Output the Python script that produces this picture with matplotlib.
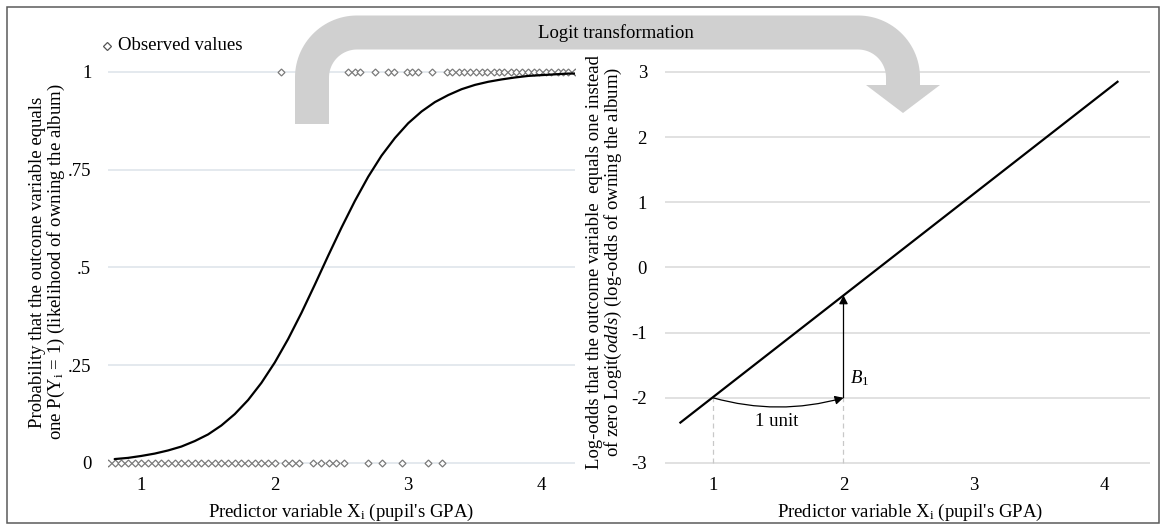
import numpy as np
import matplotlib
matplotlib.use("Agg")
import matplotlib.pyplot as plt
from matplotlib.lines import Line2D
from matplotlib.patches import Polygon, Rectangle, FancyArrowPatch

plt.rcParams['font.family'] = ['Liberation Serif', 'DejaVu Serif']
plt.rcParams['mathtext.fontset'] = 'custom'
plt.rcParams['mathtext.rm'] = 'Liberation Serif'
plt.rcParams['mathtext.it'] = 'Liberation Serif:italic'
plt.rcParams['mathtext.bf'] = 'Liberation Serif:bold'

# ---------------- data ----------------
# observed outcomes (GPA values) with Y = 0
obs0_x = [0.75, 0.80, 0.85, 0.90, 0.95, 1.00, 1.05, 1.10, 1.15, 1.20, 1.25, 1.30, 1.35,
          1.40, 1.45, 1.50, 1.55, 1.60, 1.65, 1.70, 1.75, 1.80, 1.85, 1.90, 1.95, 2.00,
          2.08, 2.13, 2.18, 2.29, 2.35, 2.41, 2.46, 2.52, 2.70, 2.80, 2.95, 3.15, 3.25]
# observed outcomes (GPA values) with Y = 1
obs1_x = [2.05, 2.55, 2.60, 2.64, 2.75, 2.85, 2.89, 2.99, 3.03, 3.07, 3.18,
          3.29, 3.33, 3.38, 3.42, 3.46, 3.51, 3.55, 3.59, 3.64, 3.68, 3.72, 3.77,
          3.81, 3.85, 3.90, 3.94, 3.98, 4.03, 4.07, 4.12, 4.16, 4.20, 4.25]

# fitted probability curve
curve_x = [0.80, 0.90, 1.00, 1.10, 1.20, 1.30, 1.40, 1.50, 1.60, 1.70, 1.80, 1.90,
           2.00, 2.10, 2.20, 2.30, 2.40, 2.50, 2.60, 2.70, 2.80, 2.90, 3.00, 3.10,
           3.20, 3.30, 3.40, 3.50, 3.60, 3.70, 3.80, 3.90, 4.00, 4.10, 4.20, 4.25]
curve_p = [0.010, 0.013, 0.018, 0.024, 0.032, 0.042, 0.056, 0.073, 0.096, 0.125, 0.161, 0.205,
           0.257, 0.317, 0.384, 0.456, 0.530, 0.602, 0.670, 0.732, 0.786, 0.831, 0.869, 0.899,
           0.923, 0.941, 0.956, 0.967, 0.975, 0.981, 0.986, 0.990, 0.992, 0.994, 0.996, 0.996]

# log-odds line (right panel)
line_x = [0.75, 4.10]
line_y = [-2.38, 2.85]

left_yticks = [0, 0.25, 0.5, 0.75, 1]
left_yticklabels = ['0', '.25', '.5', '.75', '1']
right_yticks = [-3, -2, -1, 0, 1, 2, 3]
right_yticklabels = ['-3', '-2', '-1', '0', '1', '2', '3']
xticks = [1, 2, 3, 4]
xticklabels = ['1', '2', '3', '4']

# ---------------- figure ----------------
W, H = 1166, 530
fig = plt.figure(figsize=(W / 100, H / 100), dpi=100)

def fx(px):
    return px / W

def fy(py):
    return 1 - py / H

FS = 13.5
grey_mk = '#7a7a7a'
MS = 3.5

# left panel
axL = fig.add_axes([fx(108), fy(474.7), fx(575) - fx(108), fy(52.45) - fy(474.7)])
axL.set_xlim(0.75, 4.25)
axL.set_ylim(-0.03, 1.05)
for y in left_yticks:
    axL.axhline(y, color='#dde3ea', lw=1.1, zorder=0)
axL.plot(obs0_x, [0] * len(obs0_x), ls='none', marker='D', ms=MS, mfc='white',
         mec=grey_mk, mew=0.9, zorder=3)
axL.plot(obs1_x, [1] * len(obs1_x), ls='none', marker='D', ms=MS, mfc='white',
         mec=grey_mk, mew=0.9, zorder=3)
axL.plot(curve_x, curve_p, color='black', lw=1.6, zorder=4, solid_capstyle='round')
axL.set_yticks(left_yticks)
axL.set_yticklabels(left_yticklabels)
axL.set_xticks(xticks)
axL.set_xticklabels(xticklabels)
axL.tick_params(length=0, labelsize=FS, colors='black')
axL.tick_params(axis='y', pad=12)
axL.tick_params(axis='x', pad=2)
for s in axL.spines.values():
    s.set_visible(False)

# right panel
axR = fig.add_axes([fx(665), fy(474.7), fx(1150) - fx(665), fy(52.45) - fy(474.7)])
axR.set_xlim(0.632, 4.349)
axR.set_ylim(-3.18, 3.30)
for y in right_yticks:
    axR.axhline(y, color='#d9d9d9', lw=1.1, zorder=0)
axR.plot(line_x, line_y, color='black', lw=1.6, zorder=4)
axR.set_yticks(right_yticks)
axR.set_yticklabels(right_yticklabels)
axR.set_xticks(xticks)
axR.set_xticklabels(xticklabels)
axR.tick_params(length=0, labelsize=FS, colors='black')
axR.tick_params(axis='y', pad=13)
axR.tick_params(axis='x', pad=2)
for s in axR.spines.values():
    s.set_visible(False)

# dashed guides
axR.plot([1, 1], [-3, -2], color='#c8c8c8', lw=0.9, ls=(0, (4, 3)), zorder=1)
axR.plot([2, 2], [-3, -2], color='#c8c8c8', lw=0.9, ls=(0, (4, 3)), zorder=1)

# 1 unit curved arrow
y_at_2 = line_y[0] + (2 - line_x[0]) * (line_y[1] - line_y[0]) / (line_x[1] - line_x[0])
arr1 = FancyArrowPatch((1, -2), (2, -2), connectionstyle='arc3,rad=0.14',
                       arrowstyle='-|>,head_length=5,head_width=2.6', color='black',
                       lw=0.9, shrinkA=0, shrinkB=0, zorder=5)
axR.add_patch(arr1)
axR.text(1.49, -2.36, '1 unit', fontsize=FS, ha='center', va='center')

# B1 arrow
arr2 = FancyArrowPatch((2, -2), (2, y_at_2), arrowstyle='-|>,head_length=5,head_width=2.6',
                       color='black', lw=0.9, shrinkA=0, shrinkB=0, zorder=5)
axR.add_patch(arr2)
axR.text(2.05, -1.70, r'$B_1$', fontsize=FS, ha='left', va='center')

# axis labels
fig.text(fx(341), fy(512), r"Predictor variable X$_\mathrm{i}$ (pupil's GPA)",
         fontsize=FS, ha='center', va='center')
fig.text(fx(910), fy(512), r"Predictor variable X$_\mathrm{i}$ (pupil's GPA)",
         fontsize=FS, ha='center', va='center')
fig.text(fx(48), fy(262),
         "Probability that the outcome variable equals\n"
         r"one P(Y$_\mathrm{i}$ = 1) (likelihood of owning the album)",
         fontsize=FS, ha='center', va='center', rotation=90, multialignment='center',
         linespacing=0.95)
fig.text(fx(605), fy(262),
         "Log-odds that the outcome variable  equals one instead\n"
         r"of zero Logit($\mathit{odds}$) (log-odds of owning the album)",
         fontsize=FS, ha='center', va='center', rotation=90, multialignment='center',
         linespacing=0.95)

# legend
fig.add_artist(Line2D([fx(107)], [fy(46)], ls='none', marker='D', ms=4.2, mfc='white',
                      mec='#555555', mew=0.9, transform=fig.transFigure))
fig.text(fx(118), fy(46), 'Observed values', fontsize=FS, ha='left', va='center')

# big grey "Logit transformation" arrow
r = 45
t = np.linspace(0, np.pi / 2, 30)
px = [312, 312]
py = [124, 77.5]
px += list(357 - r * np.cos(t))
py += list(77.5 - r * np.sin(t))
px += list(858 + r * np.sin(t))
py += list(77.5 - r * np.cos(t))
px += [903]
py += [86]
band = Line2D([fx(v) for v in px], [fy(v) for v in py], transform=fig.transFigure,
              lw=34 * 0.72, color='#d0d0d0', solid_capstyle='butt', solid_joinstyle='round',
              zorder=5)
fig.add_artist(band)
head = Polygon([[fx(866), fy(85)], [fx(940), fy(85)], [fx(903), fy(113)]],
               closed=True, transform=fig.transFigure, color='#d0d0d0', lw=0, zorder=5)
fig.add_artist(head)
fig.text(fx(616), fy(33), 'Logit transformation', fontsize=FS, ha='center', va='center',
         zorder=6)

# outer frame
fig.add_artist(Rectangle((fx(7), fy(523)), fx(1159) - fx(7), fy(7) - fy(523),
                         transform=fig.transFigure, fill=False, ec='#5a5a5a', lw=1.1,
                         zorder=10))

fig.savefig('out.png', dpi=100)
